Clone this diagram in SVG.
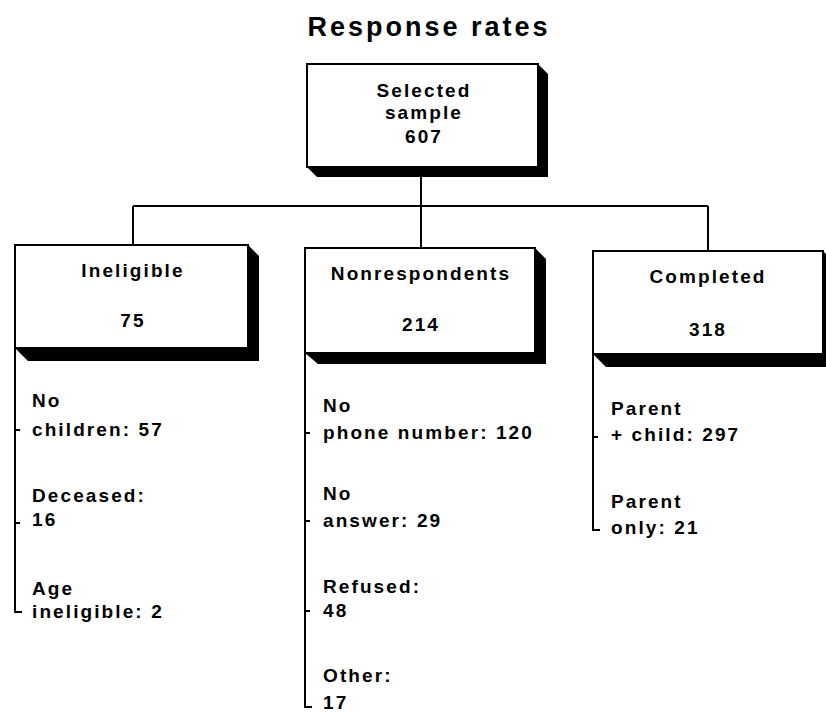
<svg xmlns="http://www.w3.org/2000/svg" width="826" height="719" viewBox="0 0 826 719">
<style>
text{font-family:"Liberation Sans",Arial,sans-serif;font-weight:bold;font-size:19px;letter-spacing:2.1px;fill:#000}
.c{text-anchor:middle}
.t{font-size:27px;letter-spacing:3px}
.box{fill:#fff;stroke:#000;stroke-width:2}
.sh{fill:#000}
.ln{fill:none;stroke:#000;stroke-width:2}
</style>
<rect width="826" height="719" fill="#fff"/>
<text class="t c" x="429" y="36">Response rates</text>
<g id="connectors">
<path class="ln" d="M421 177V206M133 206H708M133 206V245M421 206V248M708 206V251"/>
<path class="ln" d="M15 348V612H22M15 430H20M15 523H20"/>
<path class="ln" d="M305 353V707H312M305 433H310M305 521H310M305 611H310"/>
<path class="ln" d="M593 354V530H600M593 437H598"/>
</g>
<g id="selected">
<polygon class="sh" points="538,64 548,74 548,177 317,177 307,167 538,167"/>
<rect class="box" x="307" y="64" width="231" height="103"/>
<text class="c" x="424" y="97">Selected</text>
<text class="c" x="424" y="119">sample</text>
<text class="c" x="424" y="143">607</text>
</g>
<g id="ineligible">
<polygon class="sh" points="248,245 259,256 259,361 28,361 15,348 248,348"/>
<rect class="box" x="15" y="245" width="233" height="103"/>
<text class="c" x="133" y="277">Ineligible</text>
<text class="c" x="133" y="327">75</text>
<text x="32" y="407">No</text>
<text x="32" y="436">children: 57</text>
<text x="32" y="502">Deceased:</text>
<text x="32" y="526">16</text>
<text x="32" y="595">Age</text>
<text x="32" y="618">ineligible: 2</text>
</g>
<g id="nonrespondents">
<polygon class="sh" points="535,248 546,259 546,364 318,364 305,353 535,353"/>
<rect class="box" x="305" y="248" width="230" height="105"/>
<text class="c" x="421" y="280">Nonrespondents</text>
<text class="c" x="421" y="331">214</text>
<text x="323" y="412">No</text>
<text x="323" y="439">phone number: 120</text>
<text x="323" y="500">No</text>
<text x="323" y="527">answer: 29</text>
<text x="323" y="593">Refused:</text>
<text x="323" y="617">48</text>
<text x="323" y="682">Other:</text>
<text x="323" y="709">17</text>
</g>
<g id="completed">
<polygon class="sh" points="823,251 834,262 834,367 606,367 593,354 823,354"/>
<rect class="box" x="593" y="251" width="230" height="103"/>
<text class="c" x="708" y="283">Completed</text>
<text class="c" x="708" y="336">318</text>
<text x="611" y="415">Parent</text>
<text x="611" y="441">+ child: 297</text>
<text x="611" y="508">Parent</text>
<text x="611" y="534">only: 21</text>
</g>
</svg>
